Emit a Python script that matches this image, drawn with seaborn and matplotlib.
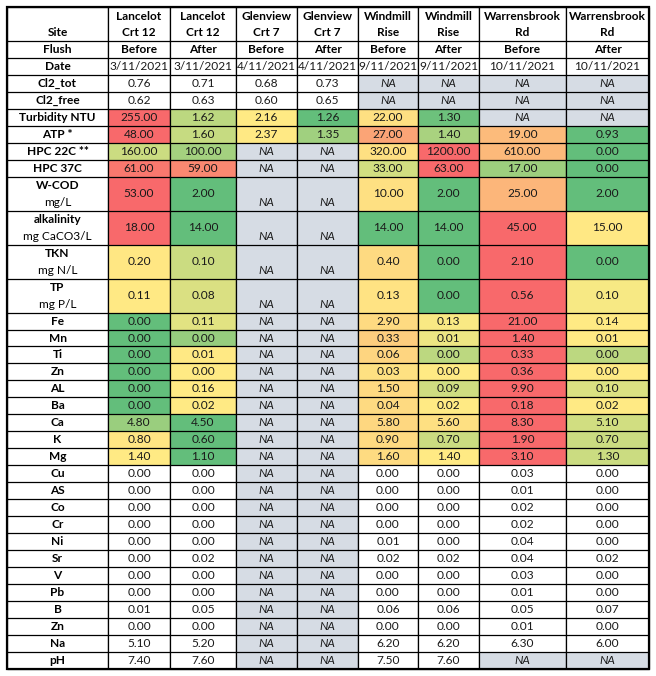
import numpy as np
import pandas as pd
import matplotlib.pyplot as plt
import seaborn as sns
from matplotlib.colors import LinearSegmentedColormap, ListedColormap
from matplotlib.patches import Rectangle

site_line1 = ["Lancelot", "Lancelot", "Glenview", "Glenview",
              "Windmill", "Windmill", "Warrensbrook", "Warrensbrook"]
site_line2 = ["Crt 12", "Crt 12", "Crt 7", "Crt 7", "Rise", "Rise", "Rd", "Rd"]
flush = ["Before", "After", "Before", "After", "Before", "After", "Before", "After"]
dates = ["3/11/2021", "3/11/2021", "4/11/2021", "4/11/2021",
         "9/11/2021", "9/11/2021", "10/11/2021", "10/11/2021"]

NA = None
cl2_tot = [0.76, 0.71, 0.68, 0.73, NA, NA, NA, NA]
cl2_free = [0.62, 0.63, 0.60, 0.65, NA, NA, NA, NA]
turbidity = [255.00, 1.62, 2.16, 1.26, 22.00, 1.30, NA, NA]
atp = [48.00, 1.60, 2.37, 1.35, 27.00, 1.40, 19.00, 0.93]
hpc22 = [160.00, 100.00, NA, NA, 320.00, 1200.00, 610.00, 0.00]
hpc37 = [61.00, 59.00, NA, NA, 33.00, 63.00, 17.00, 0.00]
wcod = [53.00, 2.00, NA, NA, 10.00, 2.00, 25.00, 2.00]
alkalinity = [18.00, 14.00, NA, NA, 14.00, 14.00, 45.00, 15.00]
tkn = [0.20, 0.10, NA, NA, 0.40, 0.00, 2.10, 0.00]
tp = [0.11, 0.08, NA, NA, 0.13, 0.00, 0.56, 0.10]
fe = [0.00, 0.11, NA, NA, 2.90, 0.13, 21.00, 0.14]
# small metals: shown as 0.00/0.01, extra digits estimated from the cell shading
mn = [0.000, 0.003, NA, NA, 0.33, 0.008, 1.40, 0.010]
ti = [0.000, 0.010, NA, NA, 0.06, 0.004, 0.33, 0.004]
zn = [0.000, 0.004, NA, NA, 0.03, 0.004, 0.36, 0.004]
al = [0.00, 0.16, NA, NA, 1.50, 0.09, 9.90, 0.10]
ba = [0.00, 0.02, NA, NA, 0.04, 0.02, 0.18, 0.02]
ca = [4.80, 4.50, NA, NA, 5.80, 5.60, 8.30, 5.10]
k = [0.80, 0.60, NA, NA, 0.90, 0.70, 1.90, 0.70]
mg = [1.40, 1.10, NA, NA, 1.60, 1.40, 3.10, 1.30]
cu = [0.00, 0.00, NA, NA, 0.00, 0.00, 0.03, 0.00]
as_ = [0.00, 0.00, NA, NA, 0.00, 0.00, 0.01, 0.00]
co = [0.00, 0.00, NA, NA, 0.00, 0.00, 0.02, 0.00]
cr = [0.00, 0.00, NA, NA, 0.00, 0.00, 0.02, 0.00]
ni = [0.00, 0.00, NA, NA, 0.01, 0.00, 0.04, 0.00]
sr = [0.00, 0.02, NA, NA, 0.02, 0.02, 0.04, 0.02]
v = [0.00, 0.00, NA, NA, 0.00, 0.00, 0.03, 0.00]
pb = [0.00, 0.00, NA, NA, 0.00, 0.00, 0.01, 0.00]
b = [0.01, 0.05, NA, NA, 0.06, 0.06, 0.05, 0.07]
zn_2 = [0.00, 0.00, NA, NA, 0.00, 0.00, 0.01, 0.00]
na_ = [5.10, 5.20, NA, NA, 6.20, 6.20, 6.30, 6.00]
ph = [7.40, 7.60, NA, NA, 7.50, 7.60, NA, NA]

rows = [
    ("Cl2_tot", cl2_tot), ("Cl2_free", cl2_free), ("Turbidity NTU", turbidity),
    ("ATP *", atp), ("HPC 22C **", hpc22), ("HPC 37C", hpc37),
    ("W-COD", wcod), ("alkalinity", alkalinity), ("TKN", tkn), ("TP", tp),
    ("Fe", fe), ("Mn", mn), ("Ti", ti), ("Zn", zn), ("AL", al), ("Ba", ba),
    ("Ca", ca), ("K", k), ("Mg", mg), ("Cu", cu), ("AS", as_), ("Co", co),
    ("Cr", cr), ("Ni", ni), ("Sr", sr), ("V", v), ("Pb", pb), ("B", b),
    ("Zn", zn_2), ("Na", na_), ("pH", ph),
]
units = {"W-COD": "mg/L", "alkalinity": "mg CaCO3/L", "TKN": "mg N/L", "TP": "mg P/L"}

# rows with the red-yellow-green colour scale (index range in `rows`)
scaled_rows = range(2, 19)
# the alkalinity scale was applied to two separate ranges
scale_groups = {7: [[0, 1], [4, 5, 6, 7]]}


def scale_levels(vals, groups):
    """Excel-like 3 colour scale: min -> 0, 50th percentile -> 0.5, max -> 1."""
    out = [np.nan] * len(vals)
    for g in groups:
        idx = [i for i in g if vals[i] is not None]
        x = np.array([vals[i] for i in idx], dtype=float)
        lo, mid, hi = x.min(), np.percentile(x, 50), x.max()
        for i, xi in zip(idx, x):
            out[i] = float(np.interp(xi, [lo, mid, hi], [0.0, 0.5, 1.0]))
    return out


# ---- build unit-row grid (double height rows take two units) ----
ncol = len(flush)
spans = [2, 1, 1] + [2 if name in units else 1 for name, _ in rows]
starts = np.concatenate([[0], np.cumsum(spans)[:-1]])
nunits = int(sum(spans))

level = np.full((nunits, ncol), np.nan)
is_na = np.zeros((nunits, ncol), dtype=bool)
for r, (name, vals) in enumerate(rows):
    s, n = starts[r + 3], spans[r + 3]
    if r in scaled_rows:
        lv = scale_levels(vals, scale_groups.get(r, [range(ncol)]))
        level[s:s + n, :] = lv
    for j, val in enumerate(vals):
        if val is None:
            is_na[s:s + n, j] = True

excel_cmap = LinearSegmentedColormap.from_list("excel", ["#63BE7B", "#FFEB84", "#F8696B"])
na_cmap = ListedColormap(["#D6DCE4"])

# ---- figure layout in pixels ----
W, H = 656, 676
fig = plt.figure(figsize=(W / 100, H / 100), dpi=100)
col_edges = [7, 108, 170, 236, 297, 358, 418, 479, 566, 649]
top, bottom = 7, 669
plt.rcParams["font.family"] = ["Lato", "DejaVu Sans"]
fs = 8.6
txt_col = "#1a1a1a"


def add_col_axes(x0, x1):
    return fig.add_axes([x0 / W, 1 - bottom / H, (x1 - x0) / W, (bottom - top) / H])


def draw_hlines(ax):
    bounds = list(starts) + [nunits]
    ax.hlines(bounds, 0, 1, color="black", lw=0.9, clip_on=False)
    ax.vlines([0, 1], 0, nunits, color="black", lw=0.9, clip_on=False)


# label column
ax0 = add_col_axes(col_edges[0], col_edges[1])
ax0.set_xlim(0, 1)
ax0.set_ylim(nunits, 0)
ax0.axis("off")
ax0.text(0.5, 1.5, "Site", ha="center", va="center", fontsize=fs, fontweight="bold")
ax0.text(0.5, 2.5, "Flush", ha="center", va="center", fontsize=fs, fontweight="bold")
ax0.text(0.5, 3.5, "Date", ha="center", va="center", fontsize=fs, fontweight="bold")
for r, (name, _) in enumerate(rows):
    s, n = starts[r + 3], spans[r + 3]
    if name in units:
        ax0.text(0.5, s + 0.5, name, ha="center", va="center", fontsize=fs, fontweight="bold")
        ax0.text(0.5, s + 1.5, units[name], ha="center", va="center", fontsize=fs)
    else:
        ax0.text(0.5, s + n / 2, name, ha="center", va="center", fontsize=fs, fontweight="bold")
draw_hlines(ax0)

# data columns
for j in range(ncol):
    ax = add_col_axes(col_edges[j + 1], col_edges[j + 2])
    lv = pd.DataFrame(level[:, j:j + 1])
    sns.heatmap(lv, mask=np.isnan(lv.values), cmap=excel_cmap, vmin=0, vmax=1,
                cbar=False, xticklabels=False, yticklabels=False, ax=ax)
    sns.heatmap(pd.DataFrame(is_na[:, j:j + 1].astype(float)), mask=~is_na[:, j:j + 1],
                cmap=na_cmap, vmin=0, vmax=1, cbar=False,
                xticklabels=False, yticklabels=False, ax=ax)
    ax.text(0.5, 0.55, site_line1[j], ha="center", va="center", fontsize=fs, fontweight="bold")
    ax.text(0.5, 1.5, site_line2[j], ha="center", va="center", fontsize=fs, fontweight="bold")
    ax.text(0.5, 2.5, flush[j], ha="center", va="center", fontsize=fs, fontweight="bold")
    ax.text(0.5, 3.5, dates[j], ha="center", va="center", fontsize=fs, color=txt_col)
    for r, (name, vals) in enumerate(rows):
        s, n = starts[r + 3], spans[r + 3]
        val = vals[j]
        if val is None:
            y = s + (1.5 if n == 2 else 0.5)
            ax.text(0.5, y, "NA", ha="center", va="center", fontsize=fs,
                    style="italic", color=txt_col)
        else:
            ax.text(0.5, s + n / 2, f"{val:.2f}", ha="center", va="center",
                    fontsize=fs, color=txt_col)
    draw_hlines(ax)

# heavier outer frame
fig.patches.append(Rectangle((col_edges[0] / W, 1 - bottom / H),
                             (col_edges[-1] - col_edges[0]) / W, (bottom - top) / H,
                             transform=fig.transFigure, fill=False, lw=1.6,
                             edgecolor="black"))

fig.savefig("out.png", dpi=100)
